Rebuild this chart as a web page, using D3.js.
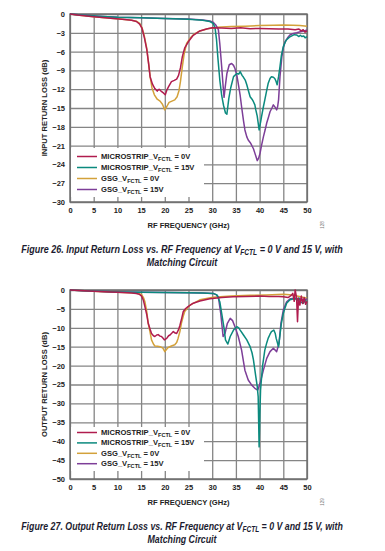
<!DOCTYPE html>
<html>
<head>
<meta charset="utf-8">
<title>Return Loss vs. RF Frequency</title>
<script src="https://d3js.org/d3.v7.min.js"></script>
<style>
  body { margin: 0; background: #fff; }
  text { font-family: "Liberation Sans", Arial, sans-serif; }
  .tick text { font-size: 7.5px; font-weight: bold; fill: #222; }
  .grid line { stroke: #858585; stroke-width: 1.3; }
  .grid path { display: none; }
</style>
</head>
<body>
<div id="chart"></div>
<script>
// x ticks (GHz) shared by both plots
const freqTicks = [0, 5, 10, 15, 20, 25, 30, 35, 40, 45, 50];
const inputTicks = [0, -3, -6, -9, -12, -15, -18, -21, -24, -27, -30];
const outputTicks = [0, -5, -10, -15, -20, -25, -30, -35, -40, -45, -50];

const seriesNames = ["MICROSTRIP_V", "MICROSTRIP_V", "GSG_V", "GSG_V"];
const seriesSuffix = [" = 0V", " = 15V", " = 0V", " = 15V"];
const seriesColors = ["#b01c4e", "#0b8a7e", "#d3a13a", "#7d3e98"];

// Figure 26 – input return loss, [GHz, dB]
const inMs0 = [[0,0],[2,-0.2],[5,-0.45],[8,-0.65],[11,-0.85],[13,-1.0],[14,-1.2],[14.7,-1.6],[15.2,-2.3],[15.7,-3.8],[16.2,-5.7],[16.6,-8],[16.9,-10],[17.4,-11.2],[17.9,-11.9],[18.4,-12.3],[18.8,-12.0],[19.2,-12.3],[19.7,-12.6],[20.1,-12.9],[20.4,-12.2],[20.8,-11.6],[21.4,-10.8],[22.0,-10.6],[22.5,-10.4],[22.9,-9.8],[23.3,-8.6],[23.7,-6.8],[24.2,-5.4],[25,-4.4],[26,-3.4],[27.4,-2.7],[28.8,-2.4],[30,-2.2],[32,-2.25],[34,-2.3],[36,-2.2],[38,-2.35],[40,-2.3],[42,-2.35],[44,-2.4],[46,-2.4],[47.5,-2.5],[48.3,-2.4],[48.8,-2.7],[49.2,-2.5],[49.6,-2.9],[50,-2.7]];
const inMs15 = [[0,0],[3,-0.2],[6,-0.35],[10,-0.5],[15,-0.6],[20,-0.7],[25,-0.85],[28,-1.0],[29.5,-1.2],[30.2,-1.5],[30.6,-2.2],[30.9,-4],[31.2,-7],[31.6,-10.5],[32.0,-13],[32.4,-14.6],[32.8,-15.8],[33.1,-16.0],[33.5,-13.5],[33.9,-11.8],[34.5,-10],[35.2,-9.5],[35.6,-9.6],[35.9,-9.2],[36.3,-9.8],[36.6,-10.1],[37.0,-10.6],[37.3,-11.3],[37.7,-12.4],[38.0,-13.2],[38.4,-13.6],[38.7,-14],[39.0,-14.5],[39.2,-15.3],[39.5,-16.3],[39.9,-18.5],[40.2,-17.3],[40.4,-16.4],[40.8,-14.8],[41.1,-13.7],[41.5,-12.2],[41.8,-11.1],[42.2,-10.3],[42.5,-10.0],[42.9,-10.1],[43.2,-10.3],[43.5,-10.8],[43.7,-11.3],[44.0,-10],[44.3,-8.4],[44.6,-6.6],[45,-5.2],[45.4,-4.5],[45.7,-4.1],[46.3,-3.7],[46.8,-3.5],[47.3,-3.3],[47.8,-3.35],[48.3,-3.6],[48.6,-3.4],[48.9,-3.6],[49.3,-3.5],[49.6,-3.8],[50,-3.6]];
const inGsg0 = [[0,0],[2,-0.2],[5,-0.45],[8,-0.65],[11,-0.85],[13,-1.0],[14,-1.15],[14.7,-1.5],[15.2,-2.2],[15.7,-3.6],[16.2,-5.5],[16.6,-8],[16.9,-10],[17.3,-11.8],[17.8,-12.9],[18.4,-13.6],[19.0,-13.9],[19.5,-14.4],[20.0,-15.3],[20.4,-14.8],[20.9,-14.1],[21.5,-13.9],[22.1,-13.7],[22.6,-13.2],[23.0,-12.2],[23.3,-10.8],[23.7,-8.4],[24.1,-6.3],[24.6,-4.7],[25.4,-3.8],[26.2,-3.2],[27.4,-2.7],[29,-2.35],[31,-2.1],[34,-2.0],[37,-1.95],[40,-1.85],[43,-1.8],[45,-1.75],[47,-1.8],[48.5,-1.85],[50,-1.95]];
const inGsg15 = [[0,0],[3,-0.2],[6,-0.35],[10,-0.5],[15,-0.6],[20,-0.7],[25,-0.8],[28,-0.95],[29.5,-1.1],[30.2,-1.3],[30.8,-1.8],[31.3,-2.5],[31.6,-4.7],[32.0,-8.4],[32.3,-11.5],[32.5,-13.3],[32.8,-11.3],[33.1,-9.5],[33.6,-8.1],[34.1,-7.9],[34.5,-8.2],[34.8,-8.7],[35.2,-9.8],[35.5,-11.1],[35.9,-13],[36.2,-14.8],[36.6,-17],[36.9,-18.5],[37.3,-19.6],[37.6,-20.1],[38.0,-20.5],[38.3,-20.9],[38.7,-21.5],[39.0,-22.2],[39.3,-22.9],[39.5,-23.4],[39.8,-23.0],[40.1,-22.2],[40.4,-21],[40.8,-19.6],[41.2,-18.4],[41.5,-17.4],[41.9,-16.4],[42.2,-15.6],[42.6,-15],[42.9,-14.5],[43.3,-14.9],[43.6,-15.3],[43.8,-14.8],[44.0,-13.7],[44.3,-10],[44.7,-6.8],[45.0,-5.4],[45.4,-4.4],[45.9,-3.8],[46.4,-3.35],[47.1,-3.1],[47.8,-3.0],[48.8,-2.8],[49.4,-2.7],[50,-2.55]];

// Figure 27 – output return loss, [GHz, dB]
const outMs0 = [[0,0],[3,-0.2],[6,-0.4],[10,-0.6],[13,-0.8],[14,-0.9],[14.6,-1.1],[15.1,-1.6],[15.5,-2.8],[15.8,-4.4],[16.2,-6.6],[16.5,-8.8],[16.9,-10.4],[17.2,-11.5],[17.6,-12.1],[17.9,-12.3],[18.3,-11.9],[18.6,-11.8],[19.0,-12.2],[19.3,-12.3],[19.6,-12.7],[19.9,-13.2],[20.4,-12.8],[20.8,-12.1],[21.1,-11.9],[21.5,-11.4],[21.8,-11.0],[22.2,-11.4],[22.5,-11.5],[22.9,-10.5],[23.2,-9.3],[23.6,-7.3],[23.9,-5.7],[24.4,-4.9],[24.9,-4.4],[26,-3.5],[27.4,-2.9],[29.5,-2.3],[32,-2.0],[34.4,-1.8],[37,-1.7],[40,-1.6],[42,-1.7],[44,-1.7],[45,-1.8],[46,-2.0],[46.6,-1.5],[47.0,-0.9],[47.3,-3.0],[47.5,0],[47.8,-2.0],[48.0,-8.4],[48.2,-2.2],[48.5,-4.0],[48.8,-1.6],[49.1,-3.6],[49.4,-2.0],[49.7,-3.8],[50,-3.0]];
const outMs15 = [[0,0],[3,-0.2],[6,-0.35],[10,-0.5],[15,-0.6],[20,-0.65],[25,-0.7],[28,-0.8],[30.2,-0.9],[31,-1.3],[31.6,-3.1],[32,-6.2],[32.5,-10.1],[32.8,-13.2],[33.3,-14.3],[33.8,-12.3],[34.5,-10.6],[35.2,-9.7],[35.6,-10.0],[35.9,-10.6],[36.6,-11.9],[37.3,-13.2],[38.0,-15.0],[38.4,-16.6],[38.7,-18.5],[39.2,-22.9],[39.5,-25.5],[39.7,-28.2],[39.9,-41.5],[40.05,-33],[40.2,-26.5],[40.6,-20.3],[41.1,-15.9],[41.5,-14.0],[41.8,-12.8],[42.2,-11.7],[42.5,-11.0],[43.0,-10.6],[43.3,-11.5],[43.5,-12.8],[44.0,-15.0],[44.3,-11.9],[44.6,-8.8],[45.0,-6.2],[45.4,-4.6],[45.7,-3.5],[46.4,-2.6],[47.0,-2.4],[47.5,-2.2],[47.9,-2.8],[48.3,-2.1],[48.7,-3.2],[49.2,-3.5],[49.6,-2.8],[50,-3.1]];
const outGsg0 = [[0,0],[3,-0.2],[6,-0.4],[10,-0.6],[13,-0.75],[14.4,-0.9],[15.1,-1.2],[15.5,-2],[15.8,-3.1],[16.2,-5.8],[16.5,-8.8],[16.9,-11.2],[17.2,-13.2],[17.6,-14.3],[17.9,-14.8],[18.5,-14.9],[19.0,-15.0],[19.6,-15.4],[20.0,-16.3],[20.3,-15.8],[20.7,-15.2],[21.4,-14.8],[22.1,-14.5],[22.5,-13.9],[22.8,-12.8],[23.2,-10.9],[23.5,-8.8],[23.9,-6.9],[24.2,-5.7],[25.3,-4.0],[27.4,-2.6],[30.2,-1.9],[34,-1.6],[38,-1.4],[41.4,-1.3],[45,-1.1],[47,-1.3],[48.6,-1.8],[50,-2.2]];
const outGsg15 = [[0,0],[3,-0.2],[6,-0.35],[10,-0.5],[15,-0.6],[20,-0.65],[25,-0.7],[28,-0.8],[30.2,-0.9],[30.9,-1.3],[31.3,-1.8],[31.8,-6.2],[32.3,-12.3],[32.7,-11.5],[33.2,-8.8],[33.8,-7.5],[34.3,-8.1],[34.8,-9.7],[35.5,-12.3],[36.2,-15.9],[36.9,-21.2],[37.6,-23.8],[38.3,-25.1],[39.0,-26.0],[39.6,-26.5],[40.1,-24.7],[40.8,-21.2],[41.5,-18.1],[42.2,-16.3],[42.9,-15.4],[43.6,-16.3],[44.1,-14.1],[44.5,-8.8],[45.0,-5.3],[45.7,-3.1],[46.5,-2.3],[47.5,-2.2],[48.5,-2.4],[49.3,-2.6],[50,-2.4]];

const svg = d3.select("#chart").append("svg")
  .attr("width", 385)
  .attr("height", 551);

function drawPlot(opts) {
  const left = 70, right = 307;
  const x = d3.scaleLinear().domain([0, 50]).range([left, right]);
  const y = d3.scaleLinear().domain([opts.ticks[opts.ticks.length - 1], 0]).range([opts.bottom, opts.top]);
  const g = svg.append("g");

  // vertical grid + x labels
  g.append("g")
    .attr("class", "grid")
    .attr("transform", "translate(0," + opts.bottom + ")")
    .call(d3.axisBottom(x).tickValues(freqTicks).tickSize(-(opts.bottom - opts.top)).tickPadding(6));
  // horizontal grid + y labels
  g.append("g")
    .attr("class", "grid")
    .attr("transform", "translate(" + left + ",0)")
    .call(d3.axisLeft(y).tickValues(opts.ticks).tickSize(-(right - left)).tickPadding(5));

  // frame
  g.append("rect")
    .attr("x", left).attr("y", opts.top)
    .attr("width", right - left).attr("height", opts.bottom - opts.top)
    .attr("fill", "none").attr("stroke", "#6a6a6a").attr("stroke-width", 1.4);

  const line = d3.line().x(d => x(d[0])).y(d => y(d[1]));
  // gsg drawn first, microstrip on top
  [2, 3, 1, 0].forEach(i => {
    g.append("path")
      .datum(opts.series[i])
      .attr("d", line)
      .attr("fill", "none")
      .attr("stroke", seriesColors[i])
      .attr("stroke-width", 1.5)
      .attr("stroke-linejoin", "round");
  });

  // legend box hides the grid below it
  g.append("rect")
    .attr("x", left + 1).attr("y", opts.legendTop)
    .attr("width", 133).attr("height", opts.legendH)
    .attr("fill", "#fff");
  const leg = g.selectAll(".legend")
    .data(seriesNames)
    .enter().append("g")
    .attr("transform", (d, i) => "translate(0," + (opts.legendY + i * opts.legendStep) + ")");
  leg.append("line")
    .attr("x1", 77).attr("x2", 97)
    .attr("stroke", (d, i) => seriesColors[i])
    .attr("stroke-width", 1.5);
  const lt = leg.append("text")
    .attr("x", 101).attr("dy", "0.33em")
    .style("font-size", "7.6px").style("font-weight", "bold").style("fill", "#222");
  lt.append("tspan").text(d => d);
  lt.append("tspan").attr("dy", "2").style("font-size", "5.6px").text("FCTL");
  lt.append("tspan").attr("dy", "-2").text((d, i) => seriesSuffix[i]);

  // axis titles
  g.append("text")
    .attr("x", (left + right) / 2).attr("y", opts.bottom + 26)
    .attr("text-anchor", "middle")
    .style("font-size", "7.6px").style("font-weight", "bold").style("fill", "#222")
    .text("RF FREQUENCY (GHz)");
  g.append("text")
    .attr("transform", "translate(44," + (opts.top + opts.bottom) / 2 + ") rotate(-90)")
    .attr("text-anchor", "middle").attr("dy", "0.35em")
    .style("font-size", "7.6px").style("font-weight", "bold").style("fill", "#222")
    .text(opts.yTitle);

  // figure id
  g.append("text")
    .attr("transform", "translate(322," + (opts.bottom + 23) + ") rotate(-90)")
    .attr("text-anchor", "middle").attr("dy", "0.35em")
    .style("font-size", "4.5px").style("fill", "#777")
    .text(opts.figId);

  // caption, squeezed horizontally like the condensed original
  const capG = g.append("g");
  const cap = capG.append("text")
    .attr("x", 182).attr("y", opts.bottom + 51)
    .attr("text-anchor", "middle")
    .style("font-size", "11.5px").style("font-weight", "bold").style("font-style", "italic")
    .style("fill", "#1c1c30");
  cap.append("tspan").text(opts.caption + " at V");
  cap.append("tspan").attr("dy", "2.5").style("font-size", "8.5px").text("FCTL");
  cap.append("tspan").attr("dy", "-2.5").text(" = 0 V and 15 V, with");
  capG.append("text")
    .attr("x", 182).attr("y", opts.bottom + 64)
    .attr("text-anchor", "middle")
    .style("font-size", "11.5px").style("font-weight", "bold").style("font-style", "italic")
    .style("fill", "#1c1c30")
    .text("Matching Circuit");
  const w = cap.node().getComputedTextLength();
  capG.attr("transform", "translate(182,0) scale(" + (322 / w) + ",1) translate(-182,0)");
}

drawPlot({
  top: 14, bottom: 202, ticks: inputTicks,
  series: [inMs0, inMs15, inGsg0, inGsg15],
  legendTop: 148, legendH: 49, legendY: 156.5, legendStep: 11,
  yTitle: "INPUT RETURN LOSS (dB)", figId: "128",
  caption: "Figure 26. Input Return Loss vs. RF Frequency"
});
drawPlot({
  top: 290, bottom: 479, ticks: outputTicks,
  series: [outMs0, outMs15, outGsg0, outGsg15],
  legendTop: 427, legendH: 44, legendY: 432.5, legendStep: 10.4,
  yTitle: "OUTPUT RETURN LOSS (dB)", figId: "129",
  caption: "Figure 27. Output Return Loss vs. RF Frequency"
});
</script>
</body>
</html>
